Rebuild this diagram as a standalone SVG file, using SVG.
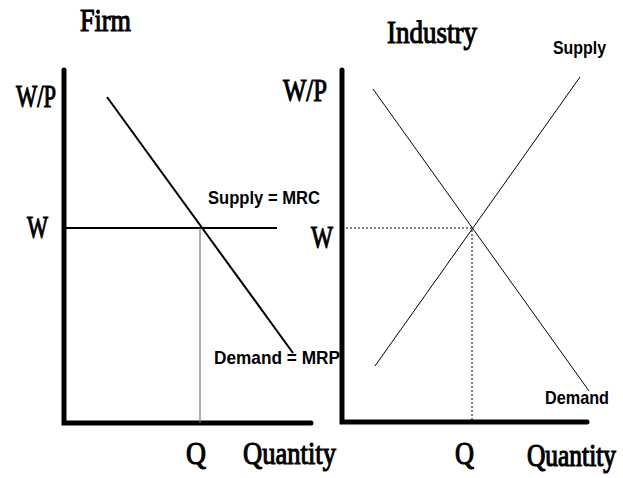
<svg xmlns="http://www.w3.org/2000/svg" width="623" height="478" viewBox="0 0 623 478">
<style>
.serif{font-family:"Liberation Serif","Times New Roman",serif;font-size:31px;font-weight:normal;fill:#000;stroke:#000;stroke-width:1.1}
.sans{font-family:"Liberation Sans",Arial,sans-serif;font-size:19px;font-weight:bold;fill:#000}
.axis{stroke:#000;stroke-width:5;stroke-linecap:round;fill:none}
.thin{stroke:#000;stroke-width:1;fill:none}
.med{stroke:#000;stroke-width:2;fill:none}
.dot{stroke:#000;stroke-width:1;stroke-dasharray:2,2;fill:none}
</style>
<rect width="623" height="478" fill="#fff"/>
<g id="connectors">
<path class="axis" d="M64,70 V423 H311"/>
<path class="med" d="M64,228 H277"/>
<path class="med" d="M107,97 L293,353"/>
<path stroke="#777" stroke-width="1.2" fill="none" d="M200,228 V423"/>
<path class="axis" d="M342,70 V422 H587"/>
<path class="thin" d="M375,366 L580,77"/>
<path class="thin" d="M373,89 L589,391"/>
<path class="dot" d="M342,228 H472 V422"/>
</g>
<g id="firm">
<text class="serif" x="80" y="31" textLength="51" lengthAdjust="spacingAndGlyphs">Firm</text>
<text class="serif" x="16" y="107" textLength="40" lengthAdjust="spacingAndGlyphs">W/P</text>
<text class="serif" x="27" y="238" textLength="21" lengthAdjust="spacingAndGlyphs">W</text>
<text class="sans" x="208" y="204" textLength="112" lengthAdjust="spacingAndGlyphs">Supply = MRC</text>
<text class="sans" x="214" y="364" textLength="126" lengthAdjust="spacingAndGlyphs">Demand = MRP</text>
<text class="serif" x="186" y="464" textLength="20" lengthAdjust="spacingAndGlyphs">Q</text>
<text class="serif" x="243" y="464" textLength="93" lengthAdjust="spacingAndGlyphs">Quantity</text>
</g>
<g id="industry">
<text class="serif" x="387" y="43" textLength="90" lengthAdjust="spacingAndGlyphs">Industry</text>
<text class="sans" x="553" y="54" textLength="53" lengthAdjust="spacingAndGlyphs">Supply</text>
<text class="serif" x="283" y="101" textLength="44" lengthAdjust="spacingAndGlyphs">W/P</text>
<text class="serif" x="311" y="248" textLength="22" lengthAdjust="spacingAndGlyphs">W</text>
<text class="sans" x="545" y="404" textLength="64" lengthAdjust="spacingAndGlyphs">Demand</text>
<text class="serif" x="455" y="464" textLength="19" lengthAdjust="spacingAndGlyphs">Q</text>
<text class="serif" transform="translate(527,466) scale(1,1.2)" x="0" y="0" style="font-size:25.5px;stroke-width:1" textLength="89" lengthAdjust="spacingAndGlyphs">Quantity</text>
</g>
</svg>
